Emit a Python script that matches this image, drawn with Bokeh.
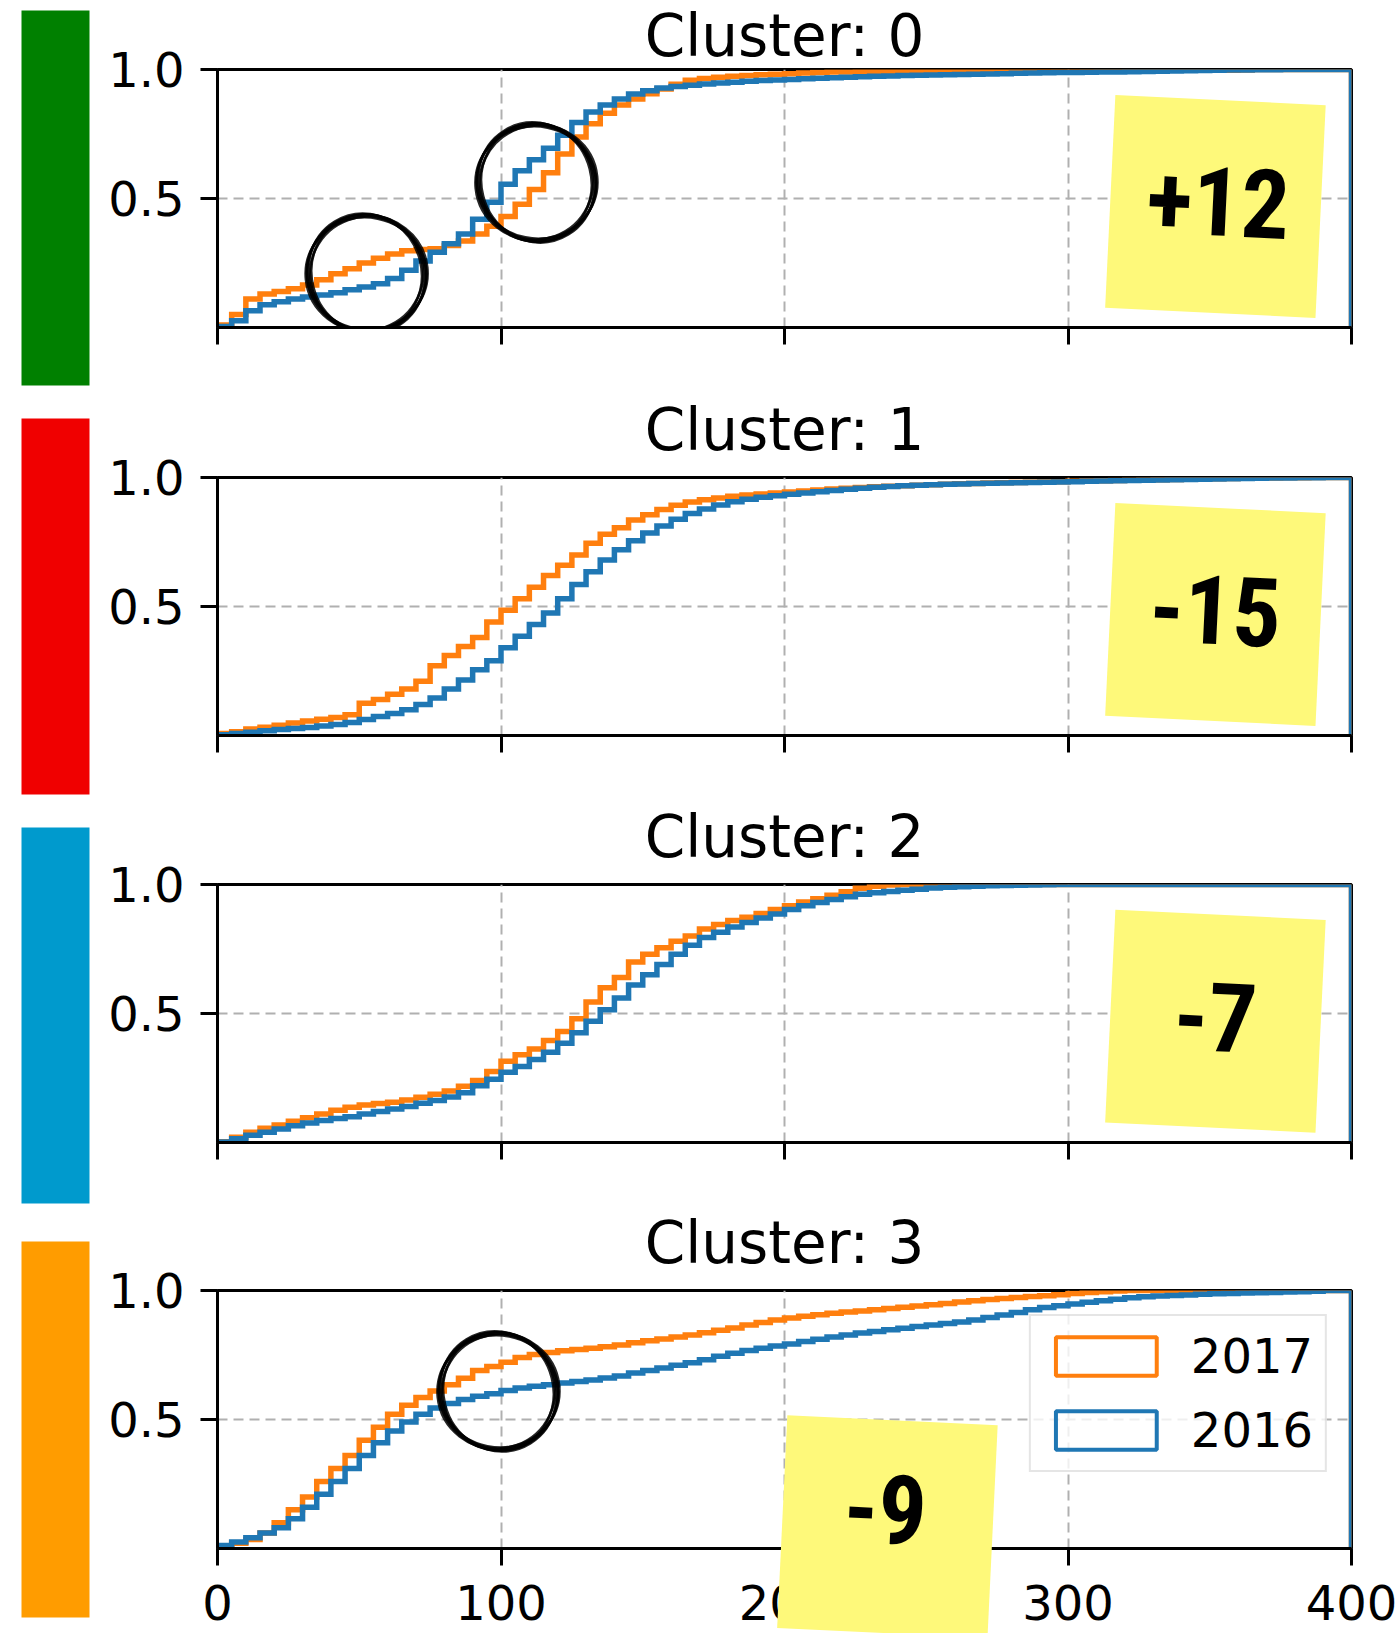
from bokeh.plotting import figure
from bokeh.models import Range1d, FixedTicker, Label, Legend, LegendItem
from bokeh.layouts import row, column
from bokeh.embed import file_html
from bokeh.resources import INLINE

# ---------------- data ----------------
BIN_EDGES = list(range(0, 405, 5))          # histogram bin edges (0..400, width 5)
YEARS = ["2017", "2016"]
CLUSTER_NAMES = ["Cluster: 0", "Cluster: 1", "Cluster: 2", "Cluster: 3"]
X_TICKS = [0, 100, 200, 300, 400]
Y_TICKS = [0.5, 1.0]
Y_TICK_LABELS = {0.5: "0.5", 1.0: "1.0"}
NOTE_TEXTS = ["+12", "-15", "-7", "-9"]

# cumulative share at the right edge of each bin
c0_2017 = [0.010, 0.050, 0.110, 0.130, 0.140, 0.150, 0.165, 0.185, 0.208, 0.228,
           0.250, 0.268, 0.285, 0.297, 0.302, 0.305, 0.318, 0.335, 0.362, 0.392,
           0.430, 0.478, 0.535, 0.600, 0.672, 0.738, 0.790, 0.830, 0.862, 0.886,
           0.906, 0.924, 0.943, 0.958, 0.965, 0.970, 0.974, 0.977, 0.980, 0.982,
           0.984, 0.986, 0.988, 0.990, 0.990, 0.991, 0.991, 0.992, 0.992, 0.992,
           0.993, 0.993, 0.993, 0.994, 0.994, 0.994, 0.994, 0.995, 0.995, 0.995,
           0.995, 0.995, 0.996, 0.996, 0.996, 0.996, 0.996, 0.997, 0.997, 0.997,
           0.997, 0.997, 0.998, 1.000, 1.000, 1.000, 1.000, 1.000, 1.000, 1.000]
c0_2016 = [0.004, 0.026, 0.065, 0.088, 0.100, 0.110, 0.118, 0.126, 0.135, 0.146,
           0.157, 0.170, 0.190, 0.222, 0.258, 0.292, 0.325, 0.362, 0.420, 0.485,
           0.555, 0.608, 0.650, 0.695, 0.745, 0.795, 0.835, 0.862, 0.886, 0.905,
           0.918, 0.928, 0.934, 0.939, 0.944, 0.948, 0.951, 0.954, 0.957, 0.959,
           0.961, 0.964, 0.966, 0.968, 0.970, 0.972, 0.974, 0.975, 0.977, 0.978,
           0.979, 0.980, 0.981, 0.982, 0.983, 0.984, 0.985, 0.986, 0.987, 0.988,
           0.988, 0.989, 0.990, 0.990, 0.991, 0.992, 0.993, 0.994, 0.995, 0.996,
           0.997, 0.998, 0.998, 0.999, 0.999, 1.000, 1.000, 1.000, 1.000, 1.000]
c1_2017 = [0.008, 0.015, 0.025, 0.032, 0.040, 0.048, 0.056, 0.063, 0.070, 0.080,
           0.125, 0.140, 0.160, 0.180, 0.210, 0.270, 0.310, 0.345, 0.380, 0.440,
           0.485, 0.530, 0.575, 0.620, 0.660, 0.700, 0.745, 0.780, 0.805, 0.835,
           0.856, 0.876, 0.892, 0.905, 0.914, 0.921, 0.927, 0.932, 0.936, 0.940,
           0.944, 0.948, 0.952, 0.955, 0.958, 0.961, 0.964, 0.966, 0.968, 0.970,
           0.972, 0.974, 0.976, 0.977, 0.979, 0.980, 0.981, 0.982, 0.983, 0.984,
           0.985, 0.986, 0.987, 0.988, 0.989, 0.990, 0.991, 0.992, 0.993, 0.994,
           0.995, 0.996, 0.997, 0.998, 0.998, 0.999, 0.999, 1.000, 1.000, 1.000]
c1_2016 = [0.003, 0.008, 0.013, 0.018, 0.023, 0.027, 0.031, 0.037, 0.043, 0.050,
           0.062, 0.074, 0.085, 0.100, 0.120, 0.145, 0.180, 0.215, 0.255, 0.290,
           0.340, 0.385, 0.430, 0.475, 0.530, 0.585, 0.635, 0.680, 0.720, 0.755,
           0.785, 0.812, 0.838, 0.860, 0.878, 0.893, 0.906, 0.916, 0.923, 0.929,
           0.935, 0.940, 0.945, 0.950, 0.954, 0.958, 0.962, 0.965, 0.968, 0.970,
           0.972, 0.974, 0.975, 0.977, 0.978, 0.979, 0.980, 0.981, 0.982, 0.983,
           0.984, 0.985, 0.986, 0.987, 0.988, 0.989, 0.990, 0.991, 0.992, 0.993,
           0.994, 0.995, 0.996, 0.997, 0.998, 0.998, 0.999, 0.999, 1.000, 1.000]
c2_2017 = [0.003, 0.020, 0.040, 0.055, 0.068, 0.082, 0.096, 0.110, 0.125, 0.137,
           0.145, 0.151, 0.156, 0.165, 0.175, 0.187, 0.200, 0.218, 0.240, 0.275,
           0.315, 0.340, 0.362, 0.395, 0.430, 0.480, 0.545, 0.600, 0.640, 0.700,
           0.730, 0.755, 0.780, 0.800, 0.828, 0.845, 0.860, 0.873, 0.888, 0.903,
           0.918, 0.932, 0.945, 0.958, 0.972, 0.985, 0.993, 0.998, 1.000, 1.000,
           1.000, 1.000, 1.000, 1.000, 1.000, 1.000, 1.000, 1.000, 1.000, 1.000,
           1.000, 1.000, 1.000, 1.000, 1.000, 1.000, 1.000, 1.000, 1.000, 1.000,
           1.000, 1.000, 1.000, 1.000, 1.000, 1.000, 1.000, 1.000, 1.000, 1.000]
c2_2016 = [0.002, 0.015, 0.028, 0.040, 0.052, 0.065, 0.076, 0.085, 0.093, 0.100,
           0.110, 0.120, 0.130, 0.140, 0.152, 0.163, 0.176, 0.193, 0.220, 0.245,
           0.272, 0.295, 0.322, 0.350, 0.385, 0.425, 0.470, 0.515, 0.560, 0.610,
           0.650, 0.690, 0.730, 0.765, 0.795, 0.815, 0.835, 0.853, 0.870, 0.886,
           0.903, 0.918, 0.930, 0.942, 0.953, 0.962, 0.968, 0.973, 0.978, 0.982,
           0.986, 0.989, 0.991, 0.993, 0.995, 0.996, 0.997, 0.998, 0.999, 1.000,
           1.000, 1.000, 1.000, 1.000, 1.000, 1.000, 1.000, 1.000, 1.000, 1.000,
           1.000, 1.000, 1.000, 1.000, 1.000, 1.000, 1.000, 1.000, 1.000, 1.000]
c3_2017 = [0.008, 0.020, 0.035, 0.060, 0.100, 0.150, 0.200, 0.260, 0.310, 0.360,
           0.420, 0.470, 0.520, 0.555, 0.585, 0.610, 0.635, 0.660, 0.690, 0.705,
           0.722, 0.740, 0.752, 0.760, 0.766, 0.771, 0.776, 0.782, 0.789, 0.797,
           0.805, 0.812, 0.820, 0.828, 0.836, 0.846, 0.855, 0.866, 0.876, 0.886,
           0.893, 0.900, 0.906, 0.912, 0.917, 0.921, 0.925, 0.930, 0.935, 0.940,
           0.945, 0.950, 0.955, 0.960, 0.965, 0.969, 0.973, 0.977, 0.980, 0.984,
           0.988, 0.992, 0.995, 0.998, 1.000, 1.000, 1.000, 1.000, 1.000, 1.000,
           1.000, 1.000, 1.000, 1.000, 1.000, 1.000, 1.000, 1.000, 1.000, 1.000]
c3_2016 = [0.012, 0.025, 0.042, 0.060, 0.080, 0.115, 0.160, 0.210, 0.260, 0.310,
           0.360, 0.410, 0.455, 0.490, 0.520, 0.545, 0.562, 0.578, 0.590, 0.600,
           0.612, 0.622, 0.629, 0.635, 0.641, 0.647, 0.653, 0.661, 0.669, 0.680,
           0.690, 0.700, 0.710, 0.720, 0.732, 0.745, 0.757, 0.767, 0.776, 0.785,
           0.793, 0.802, 0.811, 0.820, 0.828, 0.835, 0.841, 0.848, 0.854, 0.860,
           0.866, 0.872, 0.878, 0.886, 0.895, 0.905, 0.915, 0.925, 0.934, 0.941,
           0.948, 0.954, 0.960, 0.966, 0.972, 0.976, 0.979, 0.981, 0.983, 0.985,
           0.987, 0.988, 0.990, 0.991, 0.992, 0.994, 0.995, 0.997, 1.000, 1.000]

SERIES = [(c0_2017, c0_2016), (c1_2017, c1_2016), (c2_2017, c2_2016), (c3_2017, c3_2016)]

# ---------------- styling / layout constants ----------------
ORANGE = "#ff7f0e"
BLUE = "#1f77b4"
BAR_COLORS = ["#008000", "#f00000", "#009acd", "#ff9c00"]
BAR_SPANS = [(10, 385), (418, 794), (827, 1203), (1241, 1617)]   # pixel spans in the side strip
BAR_X = (21, 89)
NOTE_YELLOW = "#fef97a"
NOTE_BOX = [(352, 0.469), (352, 0.469), (352, 0.470), (236.3, 0.085)]
NOTE_TEXT_POS = [(353, 0.49), (352, 0.488), (352, 0.488), (235.6, 0.155)]
NOTE_ANGLE = -0.048
CIRCLES = [(0, 52.6, 0.209), (0, 112.5, 0.562), (3, 99.1, 0.609)]
SCRIBBLE = [(110, 119, 0.25), (120, 112, -0.2), (114, 122, 0.55), (122, 116, 0.1),
            (113, 114, -0.45), (117, 120, 0.9)]
TITLE_Y = [1.128, 1.186, 1.186, 1.186]   # data units: text middle above the top of the frame
TOPS = [69, 92, 92, 92]
BOTTOMS = [58, 57, 56, 82]
FRAME_W, FRAME_H = 1134, 258
SIDE_W = 100
FONT = "DejaVu Sans"
NOTE_FONT = "Roboto Condensed, Roboto"


def step_path(vals):
    xs, ys = [BIN_EDGES[0]], [0.0]
    for i, v in enumerate(vals):
        xs += [BIN_EDGES[i], BIN_EDGES[i + 1]]
        ys += [v, v]
    xs.append(BIN_EDGES[-1])
    ys.append(0.0)
    return xs, ys


def note_paper(x, y, shadow=False):
    if shadow:
        return Label(x=x, y=y, x_offset=-2, y_offset=-5, text=".", text_font_size="2px",
                     text_color="#000000", text_alpha=0.0, text_align="center",
                     text_baseline="middle", angle=NOTE_ANGLE,
                     background_fill_color="#000000", background_fill_alpha=0.18,
                     padding=(105, 106))
    return Label(x=x, y=y, text=".", text_font_size="2px",
                 text_color=NOTE_YELLOW, text_align="center",
                 text_baseline="middle", angle=NOTE_ANGLE,
                 background_fill_color=NOTE_YELLOW, background_fill_alpha=1.0,
                 padding=(105, 106))


figs = []
for k in range(4):
    last = (k == 3)
    p = figure(frame_width=FRAME_W, frame_height=FRAME_H,
               x_range=Range1d(0, 400), y_range=Range1d(0, 1),
               output_backend="svg", toolbar_location=None,
               min_border_left=217 - SIDE_W, min_border_right=1397 - 217 - FRAME_W,
               min_border_top=TOPS[k], min_border_bottom=BOTTOMS[k],
               background_fill_color="white", border_fill_color="white")

    p.outline_line_color = "black"
    p.outline_line_width = 3
    p.outline_line_alpha = 1

    p.xaxis.ticker = FixedTicker(ticks=X_TICKS)
    p.yaxis.ticker = FixedTicker(ticks=Y_TICKS)
    p.yaxis.major_label_overrides = Y_TICK_LABELS
    for ax in (p.xaxis, p.yaxis):
        ax.axis_line_color = "black"
        ax.axis_line_width = 3
        ax.major_tick_line_color = "black"
        ax.major_tick_line_width = 3
        ax.major_tick_in = 0
        ax.major_tick_out = 17
        ax.minor_tick_line_color = None
        ax.major_label_text_font = FONT
        ax.major_label_text_font_size = "48px"
        ax.major_label_text_color = "black"
    p.yaxis.major_label_standoff = 16
    if last:
        p.xaxis.major_label_standoff = 19
    else:
        p.xaxis.major_label_overrides = {t: "" for t in X_TICKS}
        p.xaxis.major_label_text_font_size = "1px"
        p.xaxis.major_label_standoff = 0

    p.xgrid.ticker = FixedTicker(ticks=X_TICKS)
    p.ygrid.ticker = FixedTicker(ticks=Y_TICKS)
    for g in (p.xgrid, p.ygrid):
        g.grid_line_color = "#b0b0b0"
        g.grid_line_width = 2
        g.grid_line_dash = "10 6"

    v17, v16 = SERIES[k]
    x17, y17 = step_path(v17)
    x16, y16 = step_path(v16)
    p.line(x17, y17, line_color=ORANGE, line_width=5.5, line_join="miter")
    p.line(x16, y16, line_color=BLUE, line_width=5.5, line_join="miter")

    # panel title (placed in the top border, not clipped by the frame)
    p.add_layout(Label(x=200, y=TITLE_Y[k], text=CLUSTER_NAMES[k], text_align="center",
                       text_baseline="middle", text_font=FONT,
                       text_font_size="58px", text_color="black"), "above")

    # hand-drawn circles
    for (ci, cx, cy) in CIRCLES:
        if ci != k:
            continue
        for (w, h, a) in SCRIBBLE:
            p.ellipse(x=[cx], y=[cy], width=[w], height=[h], angle=[a],
                      width_units="screen", height_units="screen",
                      fill_color=None, line_color="black", line_width=2.6, line_alpha=0.85)

    if last:
        # hidden step polygons, used only for the (patch-style) legend swatches
        r17 = p.patch(x17, y17, fill_color=None, line_color=ORANGE, line_width=4, visible=False)
        r16 = p.patch(x16, y16, fill_color=None, line_color=BLUE, line_width=4, visible=False)
        legend = Legend(items=[LegendItem(label=YEARS[0], renderers=[r17]),
                               LegendItem(label=YEARS[1], renderers=[r16])],
                        location="top_right")
        legend.label_text_font = FONT
        legend.label_text_font_size = "48px"
        legend.label_text_color = "black"
        legend.glyph_width = 126
        legend.glyph_height = 48
        legend.label_height = 56
        legend.label_standoff = 22
        legend.spacing = 18
        legend.padding = 12
        legend.margin = 24
        legend.border_line_color = "#cccccc"
        legend.border_line_width = 2
        legend.background_fill_alpha = 0.8
        legend.inactive_fill_alpha = 0.0
        p.add_layout(legend)

    # sticky note: shadow, paper, text
    nx, ny = NOTE_BOX[k]
    place = "below" if last else "center"
    p.add_layout(note_paper(nx, ny, shadow=True), place)
    p.add_layout(note_paper(nx, ny), place)
    tx, ty = NOTE_TEXT_POS[k]
    p.add_layout(Label(x=tx, y=ty, text=NOTE_TEXTS[k], text_font=NOTE_FONT,
                       text_font_style="bold", text_font_size="96px", text_color="black",
                       text_align="center", text_baseline="middle", angle=NOTE_ANGLE))
    figs.append(p)

TOTAL_H = sum(TOPS) + sum(BOTTOMS) + 4 * FRAME_H
bars = figure(width=SIDE_W, height=TOTAL_H, x_range=Range1d(0, SIDE_W), y_range=Range1d(TOTAL_H, 0),
              x_axis_type=None, y_axis_type=None, toolbar_location=None,
              output_backend="svg", min_border=0, outline_line_color=None,
              background_fill_color="white", border_fill_color="white")
bars.quad(left=BAR_X[0], right=BAR_X[1], top=[s[0] for s in BAR_SPANS],
          bottom=[s[1] for s in BAR_SPANS], fill_color=BAR_COLORS, line_color=None)

layout = row(bars, column(*figs, spacing=0), spacing=0)
open("out.html", "w").write(file_html(layout, INLINE))
